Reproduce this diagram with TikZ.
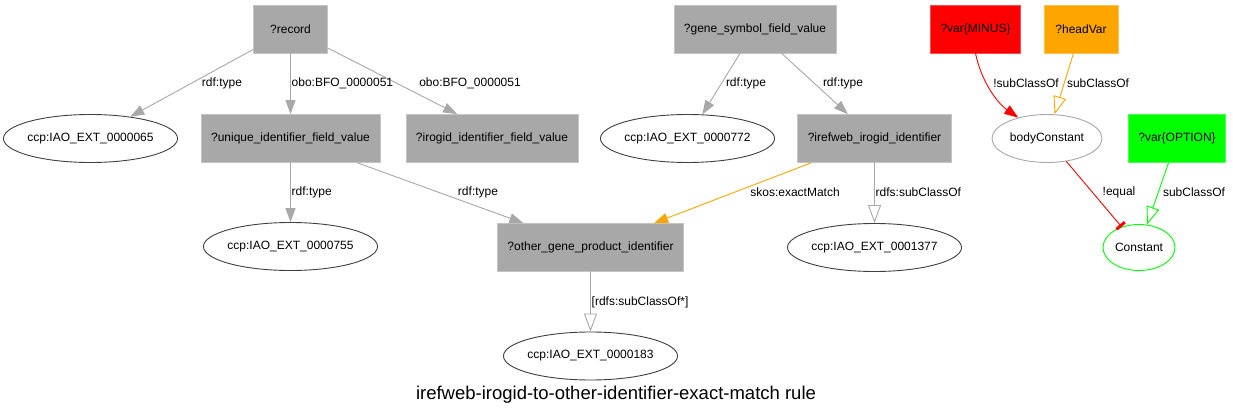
\documentclass[tikz,border=0pt]{standalone}
\usepackage{fontspec}
\setmainfont{Liberation Sans}
\usepackage{xcolor}
\usetikzlibrary{arrows.meta,shapes.geometric}
\definecolor{RuleGray}{RGB}{168,168,168}
\definecolor{RuleRim}{RGB}{196,196,196}
\definecolor{RuleDark}{RGB}{64,64,64}
\definecolor{RuleOrange}{RGB}{255,165,0}
\definecolor{RuleRed}{RGB}{255,0,0}
\definecolor{RuleGreen}{RGB}{0,255,0}
\tikzset{
  varbox/.style   ={rectangle, fill=RuleGray, draw=RuleRim, line width=0.8pt,
                    minimum width=74pt, minimum height=48pt, inner xsep=10pt},
  termnode/.style ={ellipse, draw=RuleDark, line width=0.9pt,
                    minimum width=172pt, minimum height=48pt, inner ysep=0pt, inner xsep=-1.5pt},
  lbl/.style      ={inner sep=0pt},
  fillhead/.style ={draw=#1, line width=0.9pt, -{Triangle[length=14pt,width=10pt]}},
  openhead/.style ={draw=#1, line width=0.9pt, -{Triangle[open,length=18pt,width=13pt]}},
  teehead/.style  ={draw=#1, line width=0.9pt, -{Bar[width=11pt,line width=3pt]}},
}

\begin{document}
\begin{tikzpicture}[
  x=1pt,y=-1pt,
  line cap=round,
  line join=round,
  font=\fontsize{12}{14}\selectfont
]

% --- Canvas --------------------------------------------------------------
\path[fill=white] (0,0) rectangle (1233,419);

% --- Top row: variables --------------------------------------------------
\node[varbox] (record)  at (290.5,29) {?record};
\node[varbox] (gene)    at (755,29)   {?gene\_symbol\_field\_value};
\node[varbox, fill=RuleRed, draw=RuleRed!70]       (minus)   at (975.5,29) {?var\{MINUS\}};
\node[varbox, fill=RuleOrange, draw=RuleOrange!70] (headvar) at (1081,29)  {?headVar};

% --- Second row ----------------------------------------------------------
\node[termnode] (t065)    at (90.5,138.5)  {ccp:IAO\_EXT\_0000065};
\node[varbox]   (unique)  at (290.5,138.5) {?unique\_identifier\_field\_value};
\node[varbox]   (irogid)  at (492,138.5)   {?irogid\_identifier\_field\_value};
\node[termnode] (t772)    at (687.5,138.5) {ccp:IAO\_EXT\_0000772};
\node[varbox]   (irefweb) at (874.5,138.5) {?irefweb\_irogid\_identifier};
\node[termnode, draw=RuleGray, minimum width=110pt, inner xsep=0pt] (body) at (1047,138.5) {bodyConstant};
\node[varbox, fill=RuleGreen, draw=RuleGreen!70]   (option)  at (1177,138.5) {?var\{OPTION\}};

% --- Third and fourth rows -----------------------------------------------
\node[termnode] (t755)  at (290.5,246.5) {ccp:IAO\_EXT\_0000755};
\node[varbox]   (other) at (590.5,247.5) {?other\_gene\_product\_identifier};
\node[termnode] (t1377) at (874.5,247.5) {ccp:IAO\_EXT\_0001377};
\node[termnode, draw=RuleGreen, minimum width=72pt, minimum height=46pt, inner xsep=0pt] (const) at (1139,247.5) {Constant};
\node[termnode] (t183)  at (590.5,356)   {ccp:IAO\_EXT\_0000183};

\node[font=\fontsize{18.5}{22}\selectfont] (title) at (616,395)
  {irefweb-irogid-to-other-identifier-exact-match rule};

% --- Gray triples --------------------------------------------------------
\draw[fillhead=RuleGray] (record) -- (t065);
\draw[fillhead=RuleGray] (record) -- (unique);
\draw[fillhead=RuleGray] (record) -- (irogid.145);
\draw[fillhead=RuleGray] (unique) -- (t755);
\draw[fillhead=RuleGray] (unique) -- (other);
\draw[fillhead=RuleGray] (gene) -- (t772);
\draw[fillhead=RuleGray] (gene) -- (irefweb);
\draw[openhead=RuleGray] (irefweb) -- (t1377);
\draw[openhead=RuleGray] (other) -- (t183);

% --- Match and constraint edges ------------------------------------------
\draw[fillhead=RuleOrange] (irefweb) -- (other);
\draw[fillhead=RuleRed] (minus.south) .. controls (981,80) and (996,102) .. (body.144);
\draw[openhead=RuleOrange] (headvar) -- (body);
\draw[teehead=RuleRed] (body) -- (const);
\draw[openhead=RuleGreen] (option) -- (const);

% --- Edge labels ---------------------------------------------------------
\node[lbl] (lrectype)  at (222,83) {rdf:type};
\node[lbl, anchor=west] (lrecuni) at (291.5,83) {obo:BFO\_0000051};
\node[lbl] (lreciro)   at (470,83) {obo:BFO\_0000051};
\node[lbl, anchor=west] (lunitype) at (291.5,192) {rdf:type};
\node[lbl] (lunioth)   at (478,192) {rdf:type};
\node[lbl] (lgenetype) at (746,83) {rdf:type};
\node[lbl] (lgeneiref) at (843,83) {rdf:type};
\node[lbl] (lexact)    at (795,192) {skos:exactMatch};
\node[lbl, anchor=west] (lirefsub)  at (875.5,192) {rdfs:subClassOf};
\node[lbl, anchor=west] (lothsub)   at (591.5,302) {[rdfs:subClassOf*]};
\node[lbl] (lnotsub)   at (1026,83) {!subClassOf};
\node[lbl] (lheadsub)  at (1098,83) {subClassOf};
\node[lbl] (lnoteq)    at (1119,192) {!equal};
\node[lbl] (loptsub)   at (1194,192) {subClassOf};

\end{tikzpicture}
\end{document}
